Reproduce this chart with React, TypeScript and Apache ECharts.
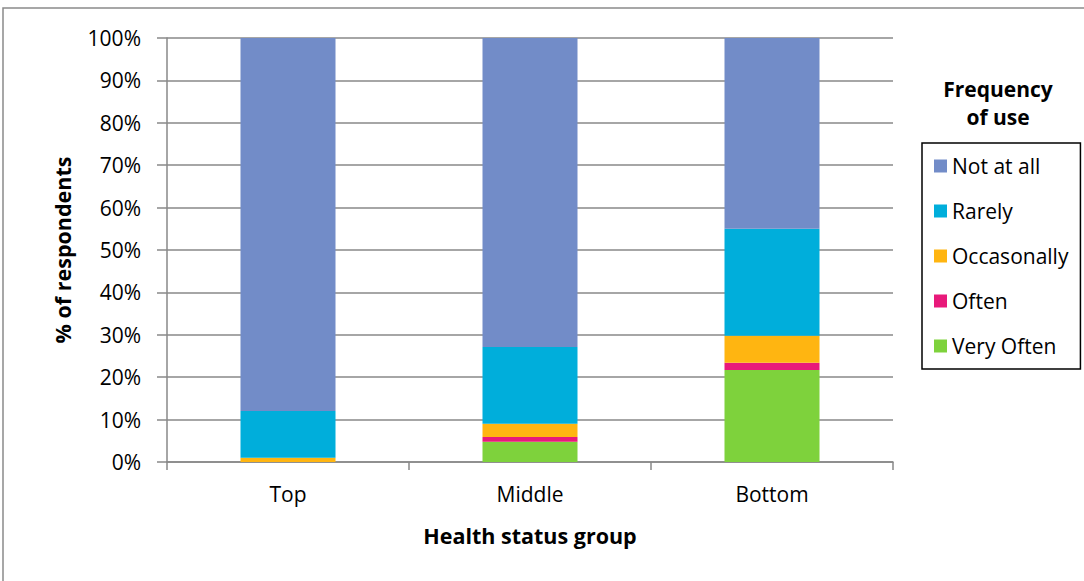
import React, { useEffect, useRef } from "react";
import * as echarts from "echarts";

const categories = ["Top", "Middle", "Bottom"];
const veryOften = [0, 4.8, 21.7];
const often = [0, 1.1, 1.7];
const occasionally = [1, 3.1, 6.4];
const rarely = [11, 18.1, 25.2];
const notAtAll = [88, 72.9, 45];
const legendOrder = ["Not at all", "Rarely", "Occasonally", "Often", "Very Often"];
const yTicks = [0, 10, 20, 30, 40, 50, 60, 70, 80, 90, 100];

const FONT = "'Open Sans', 'Noto Sans', sans-serif";
const FS = 21;
const FB = 21.5;
const GRID = "#888888";

export default function App() {
  const ref = useRef<HTMLDivElement>(null);
  useEffect(() => {
    if (!ref.current) return;
    const chart = echarts.init(ref.current, undefined, { renderer: "svg" });
    const mk = (name: string, data: number[], color: string) => ({
      name,
      type: "bar",
      stack: "total",
      data,
      barWidth: 95,
      itemStyle: { color },
      emphasis: { disabled: true },
    });
    chart.setOption({
      animation: false,
      textStyle: { fontFamily: FONT },
      graphic: [
        {
          type: "rect",
          shape: { x: 3, y: 8, width: 1110, height: 620 },
          style: { fill: "none", stroke: "#8a8a8a", lineWidth: 1.5 },
          silent: true,
        },
        {
          type: "text",
          x: 998,
          y: 75,
          style: {
            text: "Frequency\nof use",
            font: `bold ${FS}px ${FONT}`,
            fill: "#000",
            align: "center",
            verticalAlign: "top",
            lineHeight: 28,
          },
        },
      ],
      grid: { left: 167, right: 191, top: 38, bottom: 119, containLabel: false },
      legend: {
        data: legendOrder,
        orient: "vertical",
        left: 922,
        top: 143,
        padding: [12, 12, 12, 12],
        itemWidth: 13,
        itemHeight: 13,
        itemGap: 23,
        borderColor: "#000",
        borderWidth: 1.5,
        icon: "rect",
        selectedMode: false,
        textStyle: { fontSize: FS, lineHeight: 22, color: "#000", fontFamily: FONT },
      },
      xAxis: {
        type: "category",
        data: categories,
        name: "Health status group",
        nameLocation: "middle",
        nameGap: 62,
        nameTextStyle: { fontSize: FB, fontWeight: "bold", color: "#000", fontFamily: FONT },
        axisLine: { lineStyle: { color: GRID, width: 1.5 } },
        axisTick: { show: true, length: 8, lineStyle: { color: GRID, width: 1.5 } },
        axisLabel: { fontSize: FS, color: "#000", margin: 21, fontFamily: FONT },
      },
      yAxis: {
        type: "value",
        min: yTicks[0],
        max: yTicks[yTicks.length - 1],
        interval: 10,
        name: "% of respondents",
        nameLocation: "middle",
        nameGap: 94,
        nameTextStyle: { fontSize: FB, fontWeight: "bold", color: "#000", fontFamily: FONT },
        axisLine: { show: true, lineStyle: { color: GRID, width: 1.5 } },
        axisTick: { show: true, length: 10, lineStyle: { color: GRID, width: 1.5 } },
        splitLine: { show: true, lineStyle: { color: GRID, width: 1.5 } },
        axisLabel: { fontSize: FS, color: "#000", margin: 26, formatter: "{value}%", fontFamily: FONT },
      },
      series: [
        mk("Very Often", veryOften, "#7ED23C"),
        mk("Often", often, "#E8197A"),
        mk("Occasonally", occasionally, "#FFB511"),
        mk("Rarely", rarely, "#00AEDB"),
        mk("Not at all", notAtAll, "#728CC8"),
      ],
    });
    return () => chart.dispose();
  }, []);
  return (
    <div
      ref={ref}
      style={{ position: "fixed", left: 0, top: 0, width: 1084, height: 581, background: "#fff" }}
    />
  );
}
